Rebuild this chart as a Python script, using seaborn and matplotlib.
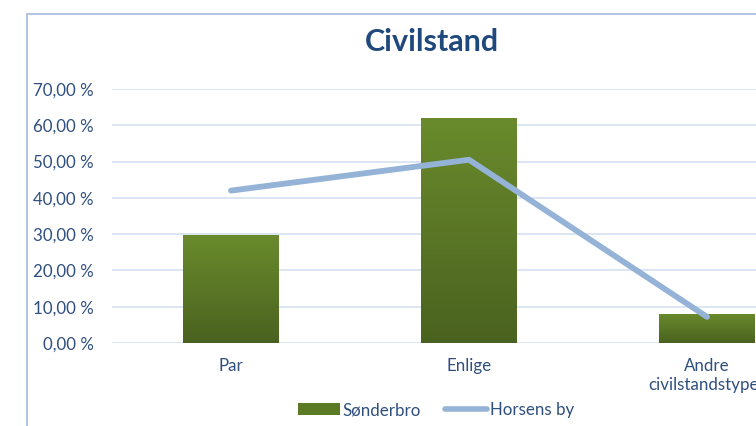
import numpy as np
import matplotlib
matplotlib.use("Agg")
import matplotlib.pyplot as plt
import seaborn as sns
from matplotlib.patches import Patch, Rectangle
from matplotlib.lines import Line2D
from matplotlib.colors import LinearSegmentedColormap

categories = ["Par", "Enlige", "Andre\ncivilstandstyper"]
sonderbro = [29.7, 62.1, 8.0]
horsens = [42.0, 50.5, 7.2]
y_ticks = [0, 10, 20, 30, 40, 50, 60, 70]

sns.set_theme(style="white")
plt.rcParams["font.family"] = ["Lato", "DejaVu Sans"]

text_col = "#2f4f7f"
fig = plt.figure(figsize=(7.56, 4.26), dpi=100)
# axes run past the right edge, the reference is cropped there
ax = fig.add_axes([112 / 756, 1 - 343 / 426, 714 / 756, 254 / 426])

sns.barplot(x=categories, y=sonderbro, color="#5a7a24", width=0.40, ax=ax, zorder=2)
sns.lineplot(x=categories, y=horsens, sort=False, color="#95b3d7", lw=4.2,
             solid_capstyle="round", ax=ax, zorder=4)

# vertical gradient on bars
cmap = LinearSegmentedColormap.from_list("g", ["#4a621f", "#6a8b2d"])
grad = np.linspace(0, 1, 256).reshape(-1, 1)
for p in ax.patches:
    x0, y0, w, h = p.get_x(), p.get_y(), p.get_width(), p.get_height()
    im = ax.imshow(grad, cmap=cmap, origin="lower", aspect="auto",
                   extent=[x0, x0 + w, y0, y0 + h], zorder=3)
    im.set_clip_path(p)
    p.set_alpha(0)

ax.set_xlim(-0.5, 2.5)
ax.set_ylim(0, 70)
ax.set_yticks(y_ticks)
ax.set_yticklabels([f"{v:.2f} %".replace(".", ",") for v in y_ticks])
ax.yaxis.grid(True, color="#d6e1f0", lw=1.2, zorder=0)
ax.set_axisbelow(True)
for s in ax.spines.values():
    s.set_visible(False)
ax.tick_params(axis="y", length=0, pad=13, labelsize=12.2, labelcolor=text_col)
ax.tick_params(axis="x", length=0, pad=11, labelsize=12.2, labelcolor=text_col)

fig.text(432 / 756, 1 - 42 / 426, "Civilstand", ha="center", va="center",
         fontsize=22, fontweight="bold", color="#1f497d")

# outer chart frame
fig.add_artist(Rectangle((27 / 756, -0.1), 1.2, 1 - 14 / 426 + 0.1,
                         transform=fig.transFigure, fill=False,
                         edgecolor="#a9c1e0", lw=1.3))

handles = [Patch(facecolor="#5a7a24", edgecolor="none"),
           Line2D([0], [0], color="#95b3d7", lw=4)]
fig.legend(handles, ["Sønderbro", "Horsens by"], loc="center",
           bbox_to_anchor=(436 / 756, 1 - 410 / 426), ncol=2, frameon=False,
           fontsize=12.2, labelcolor=text_col, handlelength=2.5,
           handleheight=0.7, handletextpad=0.15, columnspacing=1.4)

fig.savefig("out.png", dpi=100)
